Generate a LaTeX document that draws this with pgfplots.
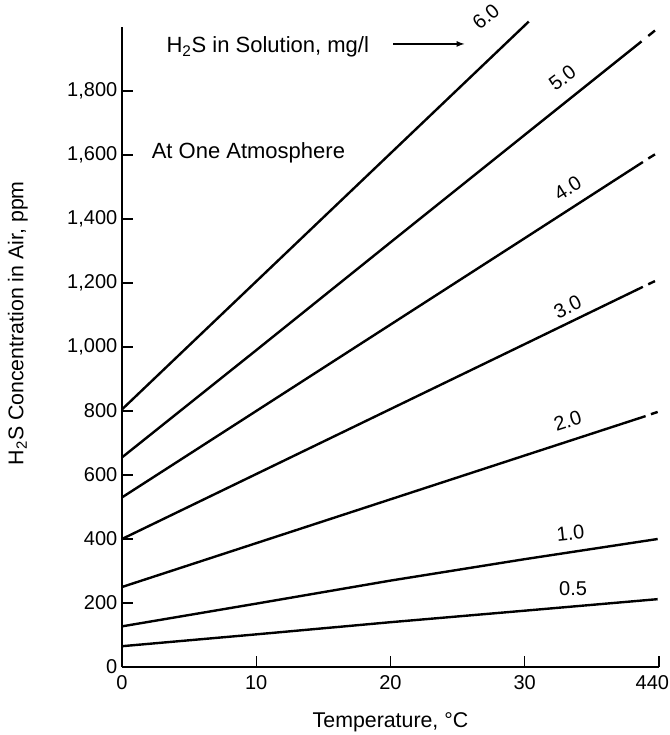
\documentclass[border=0pt]{standalone}
\usepackage{pgfplots}
\pgfplotsset{compat=1.18}
\usepackage{fontspec}
\setmainfont{Liberation Sans}
\begin{document}
\begin{tikzpicture}
\begin{axis}[
    scale only axis,
    width=402.75pt, height=480pt,
    xmin=0, xmax=40, ymin=0, ymax=2000,
    axis lines=left,
    axis line style={line width=1.3pt, -},
    clip=false,
    xtick={0,10,20,30,40}, xticklabels={0,10,20,30,{\kern-10pt 440}},
    ytick={0,200,...,1800},
    yticklabels={0,200,400,600,800,{1,000},{1,200},{1,400},{1,600},{1,800}},
    tick align=inside, major tick length=8pt,
    tick style={line width=1.1pt, black},
    tick label style={font=\fontsize{15}{18}\selectfont},
    xticklabel style={yshift=-3pt},
    label style={font=\fontsize{16}{19}\selectfont},
    xlabel={Temperature, °C},
    ylabel={H\textsubscript{2}S Concentration in Air, ppm},
    xlabel style={at={(axis description cs:0.5,-0.087)}, anchor=center},
    ylabel style={at={(axis description cs:-0.194,0.537)}, anchor=center},
    curve/.style={black, solid, line width=1.8pt, mark=none},
  ]
% 6.0 mg/l
\addplot[curve] coordinates {(0,805) (10,1205) (20,1605) (30,2005) (30.3,2017)};
% 5.0 mg/l
\addplot[curve] coordinates {(0,655) (10,990) (20,1327) (30,1663) (38.7,1955)};
\addplot[curve] coordinates {(39.2,1972) (39.7,1989)};
% 4.0 mg/l
\addplot[curve] coordinates {(0,530) (10,800) (20,1070) (30,1340) (38.8,1578)};
\addplot[curve] coordinates {(39.2,1589) (39.7,1602)};
% 3.0 mg/l
\addplot[curve] coordinates {(0,400) (10,603) (20,806) (30,1009) (38.8,1188)};
\addplot[curve] coordinates {(39.2,1196) (39.7,1206)};
% 2.0 mg/l
\addplot[curve] coordinates {(0,250) (10,387) (20,524) (30,661) (39.0,784)};
\addplot[curve] coordinates {(39.4,790) (39.9,797)};
% 1.0 mg/l
\addplot[curve] coordinates {(0,127) (10,198) (20,270) (30,337) (39.9,400)};
% 0.5 mg/l
\addplot[curve] coordinates {(0,65) (10,102) (20,140) (30,176) (39.9,212)};

\begin{scope}[font=\fontsize{15}{18}\selectfont]
\node[rotate=40] at (axis cs:27.1,2032) {6.0};
\node[rotate=37] at (axis cs:32.8,1841) {5.0};
\node[rotate=32] at (axis cs:33.2,1497) {4.0};
\node[rotate=26] at (axis cs:33.2,1125) {3.0};
\node[rotate=18] at (axis cs:33.2,769) {2.0};
\node[rotate=6] at (axis cs:33.4,419) {1.0};
\node at (axis cs:33.6,244) {0.5};
\end{scope}
\begin{scope}[font=\fontsize{16.5}{19}\selectfont]
\node[anchor=west, inner sep=0pt] at (axis cs:3.3,1937) {H\textsubscript{2}S in Solution, mg/l};
\node[anchor=west, inner sep=0pt] at (axis cs:2.2,1606) {At One Atmosphere};
\end{scope}
\draw[-latex, line width=1pt] (axis cs:20.2,1947) -- (axis cs:25.5,1947);
\end{axis}
\pgfresetboundingbox
\useasboundingbox (-91.5pt,-51pt) rectangle (411pt,500.25pt);
\end{tikzpicture}
\end{document}
